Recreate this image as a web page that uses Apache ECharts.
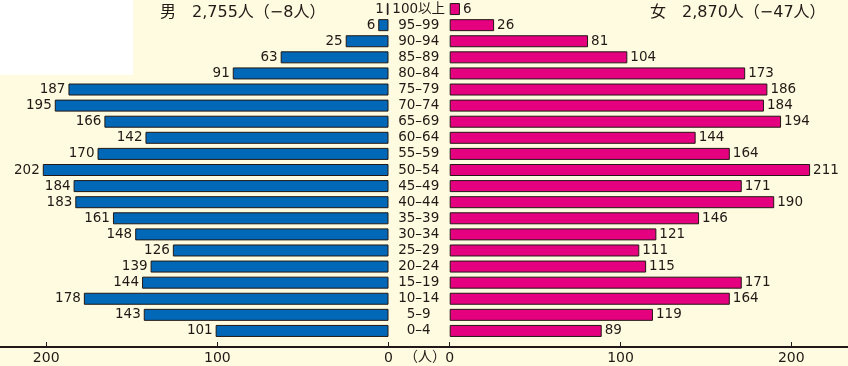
<!DOCTYPE html>
<html><head><meta charset="utf-8">
<script src="https://cdn.jsdelivr.net/npm/echarts@6/dist/echarts.min.js"></script>
<style>html,body{margin:0;padding:0;background:#fefbe0;}#c{width:848px;height:366px;}</style>
</head><body><div id="c"></div>
<script>
const ages = ['100以上','95–99','90–94','85–89','80–84','75–79','70–74','65–69','60–64','55–59','50–54','45–49','40–44','35–39','30–34','25–29','20–24','15–19','10–14','5–9','0–4'];
const male = [1,6,25,63,91,187,195,166,142,170,202,184,183,161,148,126,139,144,178,143,101];
const female = [6,26,81,104,173,186,184,194,144,164,211,171,190,146,121,111,115,171,164,119,89];
const maleTitle = '男　2,755人（−8人）';
const femaleTitle = '女　2,870人（−47人）';

const FONT = '"DejaVu Sans", "Noto Sans CJK JP", sans-serif';
const TXT = '#231815';
const chart = echarts.init(document.getElementById('c'));
const axisCommon = {
  type:'value', min:0, interval:100, offset:8,
  axisLine:{show:true, lineStyle:{color:TXT, width:2}},
  axisTick:{show:true, inside:true, length:5, lineStyle:{color:TXT, width:1}},
  axisLabel:{color:TXT, fontSize:14, fontFamily:FONT, margin:4, showMaxLabel:false},
  splitLine:{show:false}
};
chart.setOption({
  backgroundColor:'#fefbe0',
  animation:false,
  grid:[
    {left:0, width:388.5, top:1, bottom:27, containLabel:false, outerBoundsMode:'none'},
    {left:449.7, right:0, top:1, bottom:27, containLabel:false, outerBoundsMode:'none'}
  ],
  xAxis:[
    Object.assign({}, axisCommon, {gridIndex:0, inverse:true, max:227}),
    Object.assign({}, axisCommon, {gridIndex:1, max:233.2})
  ],
  yAxis:[
    {type:'category', gridIndex:0, data:ages, inverse:true, show:false},
    {type:'category', gridIndex:1, data:ages, inverse:true,
     axisLine:{show:false}, axisTick:{show:false},
     axisLabel:{interval:0, color:TXT, fontSize:13.5, fontFamily:FONT, align:'center', margin:31}}
  ],
  series:[
    {type:'bar', xAxisIndex:0, yAxisIndex:0, data:male, barWidth:12,
     itemStyle:{color:'#0068b7', borderColor:TXT, borderWidth:1},
     label:{show:true, position:'left', distance:3, color:TXT, fontSize:13.5, fontFamily:FONT}},
    {type:'bar', xAxisIndex:1, yAxisIndex:1, data:female, barWidth:12,
     itemStyle:{color:'#e4007f', borderColor:TXT, borderWidth:1},
     label:{show:true, position:'right', distance:3, color:TXT, fontSize:13.5, fontFamily:FONT}}
  ],
  graphic:[
    {type:'rect', left:0, top:0, shape:{width:133, height:75}, style:{fill:'#ffffff'}, z:-1},
    {type:'line', shape:{x1:388, y1:347, x2:450, y2:347}, style:{stroke:TXT, lineWidth:2}},
    {type:'text', left:404, top:349, style:{text:'（人）', fill:TXT, font:'14px "Noto Sans CJK JP"'}},
    {type:'text', left:160, top:5, style:{text:maleTitle, fill:TXT, font:'16px '+FONT}},
    {type:'text', left:650, top:5, style:{text:femaleTitle, fill:TXT, font:'16px '+FONT}}
  ]
});
</script></body></html>
